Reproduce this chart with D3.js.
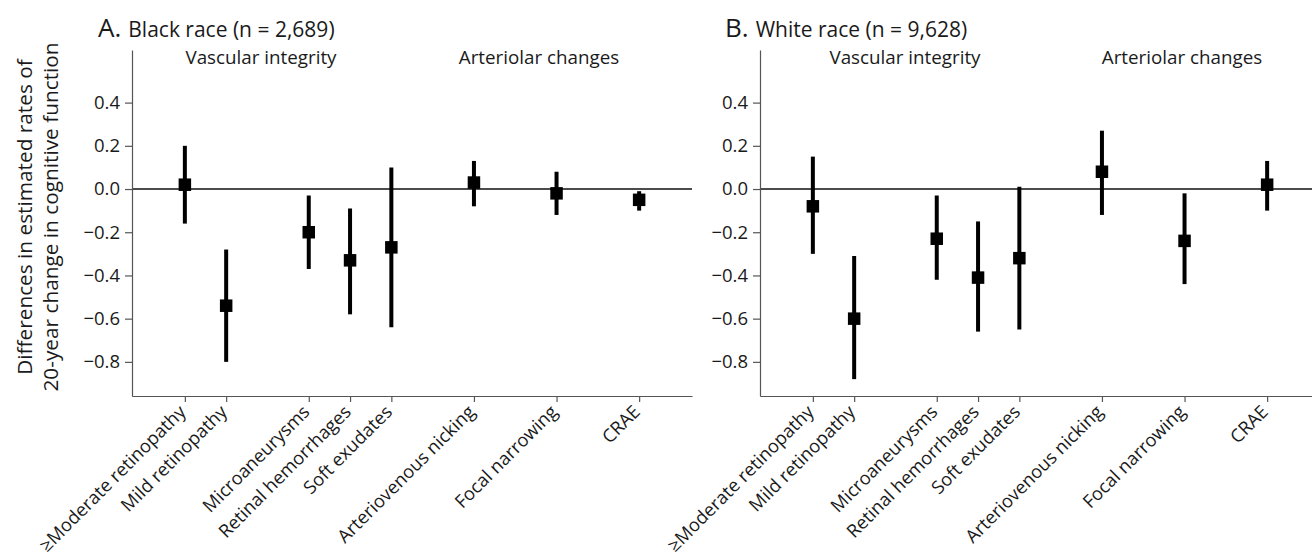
<!DOCTYPE html>
<html>
<head>
<meta charset="utf-8">
<script src="https://cdn.jsdelivr.net/npm/d3@7"></script>
<style>
  body { margin: 0; background: #fff; }
  svg text { font-family: "Open Sans", sans-serif; fill: #1a1a1a; }
</style>
</head>
<body>
<svg></svg>
<script>
var categories = ['\u2265Moderate retinopathy', 'Mild retinopathy', 'Microaneurysms', 'Retinal hemorrhages',
	'Soft exudates', 'Arteriovenous nicking', 'Focal narrowing', 'CRAE'];
var catPos = [1, 2, 4, 5, 6, 8, 10, 12];
var yTicks = [-0.8, -0.6, -0.4, -0.2, 0, 0.2, 0.4];

// panel A, black race
var blackEst  = [0.02, -0.54, -0.20, -0.33, -0.27, 0.03, -0.02, -0.05];
var blackLow  = [-0.16, -0.80, -0.37, -0.58, -0.64, -0.08, -0.12, -0.10];
var blackHigh = [0.20, -0.28, -0.03, -0.09, 0.10, 0.13, 0.08, -0.01];
// panel B, white race
var whiteEst  = [-0.08, -0.60, -0.23, -0.41, -0.32, 0.08, -0.24, 0.02];
var whiteLow  = [-0.30, -0.88, -0.42, -0.66, -0.65, -0.12, -0.44, -0.10];
var whiteHigh = [0.15, -0.31, -0.03, -0.15, 0.01, 0.27, -0.02, 0.13];

var width = 1312;
var height = 558;
var svg = d3.select('svg')
			.attr('width', width)
			.attr('height', height);

var yScale = d3.scaleLinear()
			.domain([-0.958, 0.6435])
			.range([396, 50]);

var fmt = d3.format('.1f');

function drawPanel(opts) {
	var g = svg.append('g');
	var xScale = d3.scaleLinear()
			.domain([-0.28, 13.28])
			.range([opts.left, opts.left + 560]);

	var rows = categories.map(function(c, i) {
		return { name: c, pos: catPos[i], est: opts.est[i], lo: opts.lo[i], hi: opts.hi[i] };
	});

	// zero line
	g.append('line')
		.attr('x1', xScale.range()[0])
		.attr('x2', xScale.range()[1])
		.attr('y1', yScale(0))
		.attr('y2', yScale(0))
		.attr('stroke', '#111')
		.attr('stroke-width', 1.4);

	// y axis
	var yAxis = g.append('g')
		.attr('transform', 'translate(' + opts.left + ',0)')
		.call(d3.axisLeft(yScale).tickValues(yTicks).tickFormat(fmt).tickSize(7).tickSizeOuter(0));
	yAxis.select('.domain').attr('stroke', '#555').attr('stroke-width', 1.2);
	yAxis.selectAll('.tick line').attr('stroke', '#555').attr('stroke-width', 1.2);
	yAxis.selectAll('.tick text')
		.attr('x', -12)
		.style('font-size', '18.5px');

	// x axis
	var xAxis = g.append('g')
		.attr('transform', 'translate(0,' + yScale.range()[0] + ')')
		.call(d3.axisBottom(xScale).tickValues(catPos).tickFormat('').tickSize(6).tickSizeOuter(0));
	xAxis.select('.domain').attr('stroke', '#555').attr('stroke-width', 1.2);
	xAxis.selectAll('.tick line').attr('stroke', '#555').attr('stroke-width', 1.2);

	g.selectAll('.xlab')
		.data(rows)
		.enter()
		.append('text')
		.attr('class', 'xlab')
		.attr('text-anchor', 'end')
		.attr('transform', d => 'translate(' + (xScale(d.pos) + 2) + ',' + (yScale.range()[0] + 17) + ') rotate(-45)')
		.style('font-size', '18.3px')
		.text(d => d.name);

	// error bars
	g.selectAll('.ci')
		.data(rows)
		.enter()
		.append('line')
		.attr('class', 'ci')
		.attr('x1', d => xScale(d.pos))
		.attr('x2', d => xScale(d.pos))
		.attr('y1', d => yScale(d.lo))
		.attr('y2', d => yScale(d.hi))
		.attr('stroke', '#000')
		.attr('stroke-width', 4);

	g.selectAll('.pt')
		.data(rows)
		.enter()
		.append('rect')
		.attr('class', 'pt')
		.attr('x', d => xScale(d.pos) - 6.25)
		.attr('y', d => yScale(d.est) - 6.25)
		.attr('width', 12.5)
		.attr('height', 12.5)
		.attr('fill', '#000');

	// titles
	var t = g.append('text')
		.attr('x', opts.titleX)
		.attr('y', 37);
	t.append('tspan').style('font-size', '26px').text(opts.letter);
	t.append('tspan').attr('dx', 7).style('font-size', '21px').text(opts.title);

	g.append('text')
		.attr('x', opts.vascX)
		.attr('y', 64)
		.attr('text-anchor', 'middle')
		.style('font-size', '18.8px')
		.text('Vascular integrity');
	g.append('text')
		.attr('x', opts.artX)
		.attr('y', 64)
		.attr('text-anchor', 'middle')
		.style('font-size', '18.8px')
		.text('Arteriolar changes');
}

drawPanel({ left: 132, est: blackEst, lo: blackLow, hi: blackHigh,
	letter: 'A.', title: 'Black race (n = 2,689)', titleX: 98, vascX: 261, artX: 539 });
drawPanel({ left: 760, est: whiteEst, lo: whiteLow, hi: whiteHigh,
	letter: 'B.', title: 'White race (n = 9,628)', titleX: 725, vascX: 905, artX: 1182 });

// y axis label
var ylab = svg.append('text')
	.attr('text-anchor', 'middle')
	.attr('transform', 'translate(32,' + 217 + ') rotate(-90)')
	.style('font-size', '20.8px');
ylab.append('tspan').attr('x', 0).attr('dy', 0).text('Differences in estimated rates of');
ylab.append('tspan').attr('x', 0).attr('dy', 26).text('20-year change in cognitive function');
</script>
</body>
</html>
